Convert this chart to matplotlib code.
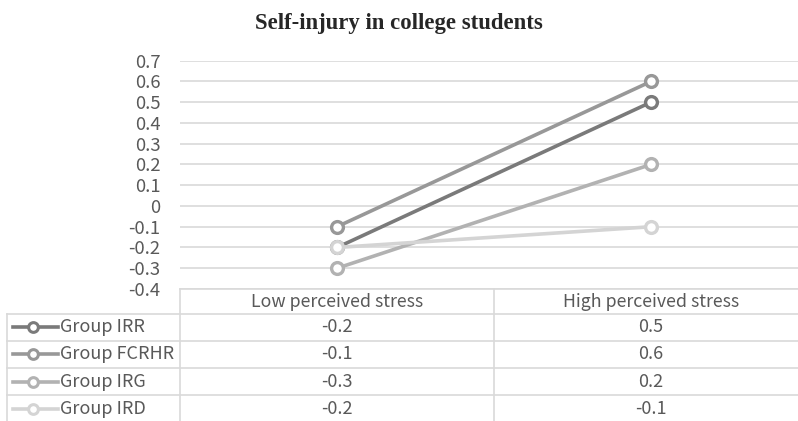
import matplotlib.pyplot as plt
from matplotlib.lines import Line2D

# data
categories = ["Low perceived stress", "High perceived stress"]
groups = ["Group IRR", "Group FCRHR", "Group IRG", "Group IRD"]
irr = [-0.2, 0.5]
fcrhr = [-0.1, 0.6]
irg = [-0.3, 0.2]
ird = [-0.2, -0.1]
series = [irr, fcrhr, irg, ird]
yticks = [0.7, 0.6, 0.5, 0.4, 0.3, 0.2, 0.1, 0, -0.1, -0.2, -0.3, -0.4]

colors = ["#7a7a7a", "#989898", "#b2b2b2", "#d4d4d4"]
grid_c = "#d9d9d9"
text_c = "#595959"
fam = ["Noto Sans CJK SC", "DejaVu Sans"]

W, H = 798, 421
fig = plt.figure(figsize=(W / 100, H / 100), dpi=100)

# plot area in pixels
left, right, top, bottom = 180, 798, 60.7, 289
ax = fig.add_axes([left / W, 1 - bottom / H, (right - left) / W, (bottom - top) / H])
col_w = 314
ax.set_xlim(-0.5, (right - left) / col_w - 0.5)
ax.set_ylim(-0.4, 0.7)
for s in ax.spines.values():
    s.set_visible(False)
ax.set_xticks([])
ax.set_yticks(yticks)
ax.set_yticklabels([f"{t:g}" for t in yticks], family=fam, fontsize=13.3, color=text_c)
ax.tick_params(axis="y", length=0, pad=14)
for t in yticks:
    ax.axhline(t, color=grid_c, lw=1.2, zorder=0)

for vals, c in zip(series, colors):
    ax.plot(range(len(categories)), vals, color=c, lw=2.6, marker="o", ms=8.5,
            mfc="white", mec=c, mew=2.4, clip_on=False, zorder=3)

fig.text(0.5, 1 - 23 / H, "Self-injury in college students", ha="center", va="center",
         family="Liberation Serif", weight="bold", fontsize=16.4, color="#262626")

# data table drawn in pixel coords
tab = fig.add_axes([0, 0, 1, 1])
tab.set_xlim(0, W)
tab.set_ylim(H, 0)
tab.axis("off")
tab.patch.set_alpha(0)

head_top, head_bot, row_h = 289, 313.5, 27.3
tl, tr = 7, 808
lkw = dict(color=grid_c, lw=1.2)
tab.plot([left, tr], [head_top, head_top], **lkw)
for i in range(len(groups) + 1):
    y = head_bot + i * row_h
    tab.plot([tl, tr], [y, y], **lkw)
tab.plot([left, left], [head_top, H + 5], **lkw)
tab.plot([left + col_w, left + col_w], [head_top, H + 5], **lkw)
tab.plot([tl, tl], [head_bot, H + 5], **lkw)

for j, cat in enumerate(categories):
    tab.text(left + col_w * (j + 0.5), (head_top + head_bot) / 2 + 1, cat, ha="center",
             va="center", family=fam, fontsize=12.8, color=text_c)

for i, (g, vals, c) in enumerate(zip(groups, series, colors)):
    yc = head_bot + (i + 0.5) * row_h
    tab.add_line(Line2D([13, 58], [yc, yc], color=c, lw=2.6))
    tab.plot([33], [yc], marker="o", ms=7, mfc="white", mec=c, mew=2.2)
    tab.text(60, yc, g, ha="left", va="center", family=fam, fontsize=13, color=text_c)
    for j, v in enumerate(vals):
        tab.text(left + col_w * (j + 0.5), yc, f"{v:g}", ha="center", va="center",
                 family=fam, fontsize=13, color=text_c)

fig.savefig("out.png", dpi=100)
